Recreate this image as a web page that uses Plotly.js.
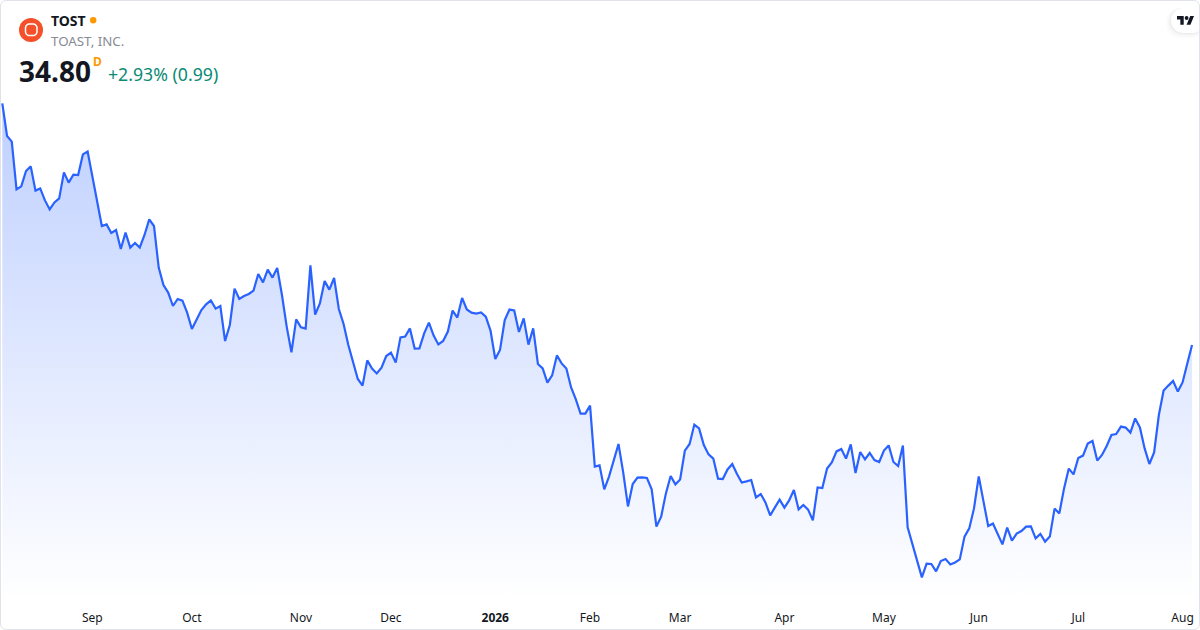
<!DOCTYPE html>
<html><head><meta charset="utf-8">
<script src="https://cdn.plot.ly/plotly-3.0.1.min.js"></script>
<style>
html,body{margin:0;padding:0;background:#fff;overflow:hidden}
#wrap{position:relative;width:1200px;height:630px}
#chart{width:1200px;height:630px}
#frame{position:absolute;left:0;top:0;width:1200px;height:630px;box-sizing:border-box;border:1px solid #e0e3eb;border-radius:6px;pointer-events:none}
</style></head><body>
<div id="wrap"><div id="chart"></div><div id="frame"></div></div>
<script>
const closes = [
46.88,45.25,44.97,42.58,42.73,43.50,43.73,42.52,42.63,42.03,41.58,41.93,42.13,43.43,42.92,43.32,43.30,44.33,44.47,43.22,
41.97,40.75,40.83,40.40,40.55,39.60,40.42,39.67,39.90,39.67,40.30,41.08,40.75,38.67,37.80,37.42,36.75,37.10,37.02,36.42,
35.60,36.07,36.55,36.83,37.03,36.62,36.75,35.00,35.80,37.62,37.10,37.25,37.35,37.52,38.35,37.93,38.57,38.17,38.65,37.30,
35.72,34.43,36.08,35.68,35.62,38.78,36.32,36.88,38.00,37.57,38.15,36.60,35.85,34.80,33.88,33.10,32.77,34.03,33.62,33.38,
33.67,34.25,34.42,33.92,35.18,35.22,35.63,34.62,34.63,35.38,35.92,35.27,34.83,35.00,35.47,36.52,36.17,37.15,36.58,36.42,
36.37,36.43,36.22,35.52,34.10,34.55,36.05,36.57,36.53,35.45,36.13,34.82,35.63,33.85,33.63,32.92,33.28,34.28,33.88,33.62,
32.68,32.08,31.37,31.37,31.77,28.72,28.78,27.58,28.22,29.05,29.85,28.42,26.73,27.85,28.17,28.18,28.15,27.58,25.72,26.22,
27.38,28.25,27.83,28.08,29.52,29.85,30.82,30.63,29.80,29.33,29.12,28.12,28.10,28.58,28.85,28.35,27.92,27.98,28.05,27.18,
27.35,26.93,26.28,26.68,27.07,26.67,27.03,27.55,26.58,26.80,26.57,26.03,27.68,27.65,28.62,28.93,29.48,29.60,29.12,29.83,
28.40,29.45,29.08,29.40,29.05,28.95,29.52,29.78,28.95,28.75,29.77,25.68,24.85,24.02,23.18,23.87,23.85,23.48,24.00,24.10,
23.83,23.93,24.08,25.22,25.63,26.63,28.23,26.98,25.75,25.87,25.33,24.83,25.67,25.02,25.37,25.50,25.72,25.73,25.13,25.35,
24.97,25.22,26.62,26.38,27.63,28.62,28.33,29.15,29.27,29.87,30.00,29.02,29.30,29.75,30.30,30.35,30.72,30.67,30.42,31.13,
30.68,29.63,28.85,29.43,31.30,32.52,32.77,33.00,32.47,32.93,33.88,34.80];
const sessions = closes.map((_, i) => i);
const tickSessions = [19, 40, 63, 82, 104, 124, 143, 165, 186, 206, 227, 249];
const tickLabels = ['Sep','Oct','Nov','Dec','<b>2026</b>','Feb','Mar','Apr','May','Jun','Jul','Aug'];
const symbol = 'TOST', company = 'TOAST, INC.', lastPrice = '34.80', change = '+2.93% (0.99)';

const W = 1200, PH = 600;
const px = x => x / W, py = y => 1 - y / PH;
const FONT = '"Noto Sans", "Open Sans", sans-serif';
const pathOf = pts => pts.map((p, i) => (i ? 'L' : 'M') + px(p[0]).toFixed(5) + ',' + py(p[1]).toFixed(5)).join(' ') + ' Z';
const base = {xref:'paper', yref:'paper', layer:'above'};
const note = (x, y, text, size, color, anchor, extra) => Object.assign({
  xref:'paper', yref:'paper', x:px(x), y:py(y), text, showarrow:false, xanchor:anchor||'left', yanchor:'middle',
  font:{family:FONT, size, color}, borderpad:0, borderwidth:0
}, extra||{});

function arc(cx, cy, rx, ry, a0, a1, n){const o=[];for(let k=0;k<=n;k++){const a=(a0+(a1-a0)*k/n)*Math.PI/180;o.push([cx+rx*Math.cos(a),cy+ry*Math.sin(a)]);}return o;}
function pill(x0,y0,x1,y1,r){return pathOf([...arc(x0+r,y0+r,r,r,180,270,8),...arc(x1-r,y0+r,r,r,270,360,8),...arc(x1-r,y1-r,r,r,0,90,8),...arc(x0+r,y1-r,r,r,90,180,8)]);}
const LX = 1177, LY = 14.2, LS = 0.48;
const lg = (x,y) => [LX + x*LS, LY + y*LS];
const shapes = [
  Object.assign({}, base, {type:'circle', x0:px(19), x1:px(43), y0:py(42), y1:py(18), fillcolor:'#f4502a', line:{width:0}}),
  Object.assign({}, base, {type:'path', path:pill(25.5,24,37,35.5,4), fillcolor:'rgba(0,0,0,0)', line:{color:'#ffffff', width:1.5}}),
  Object.assign({}, base, {type:'circle', x0:px(90), x1:px(96.4), y0:py(23.4), y1:py(17), fillcolor:'#ff9800', line:{width:0}}),
  ...[[5,0.01],[3.5,0.015],[2,0.02],[1,0.025]].map(s => Object.assign({}, base, {type:'path', path:pill(1171-s[0],8,1205,33+s[0],13), fillcolor:'rgba(0,0,0,'+s[1]+')', line:{width:0}})),
  Object.assign({}, base, {type:'path', path:pill(1171,8,1205,33,12.5), fillcolor:'#ffffff', line:{width:0}}),
  Object.assign({}, base, {type:'path', path:pathOf([lg(14,22),lg(7,22),lg(7,11),lg(0,11),lg(0,4),lg(14,4)]), fillcolor:'#131722', line:{width:0}}),
  Object.assign({}, base, {type:'path', path:pathOf([lg(28,22),lg(20,22),lg(27.5,4),lg(35.5,4)]), fillcolor:'#131722', line:{width:0}}),
  Object.assign({}, base, {type:'circle', x0:px(lg(16,4)[0]), x1:px(lg(24,4)[0]), y0:py(lg(0,12)[1]), y1:py(lg(0,4)[1]), fillcolor:'#131722', line:{width:0}})
];
const annotations = [
  note(51, 20.5, '<b>'+symbol+'</b>', 14, '#131722'),
  note(51, 40.5, company, 13.3, '#878b94'),
  note(19, 71, '<b>'+lastPrice+'</b>', 28, '#131722'),
  note(93, 61.5, '<b>D</b>', 12, '#ff9800'),
  note(108, 74.5, change, 17.7, '#0b8a74')
];

Plotly.newPlot('chart', [{
  type:'scatter', mode:'lines', x:sessions, y:closes, hoverinfo:'skip',
  line:{color:'#2962ff', width:2.2, shape:'linear'},
  fill:'tozeroy',
  fillgradient:{type:'vertical', start:22.05, stop:46.88, colorscale:[[0,'rgba(41,98,255,0)'],[1,'rgba(41,98,255,0.3)']]}
}], {
  width:1200, height:630, paper_bgcolor:'#ffffff', plot_bgcolor:'#ffffff', showlegend:false,
  margin:{l:0,r:0,t:0,b:30,pad:0},
  xaxis:{range:[-0.485,252.68], tickmode:'array', tickvals:tickSessions, ticktext:tickLabels, showgrid:false, zeroline:false, showline:false, ticks:'', tickangle:0, ticklen:0, ticklabelstandoff:9,
    tickfont:{family:FONT, size:12, color:'#131722'}, fixedrange:true},
  yaxis:{range:[22.05,52.05], visible:false, showgrid:false, zeroline:false, fixedrange:true},
  shapes, annotations
}, {displayModeBar:false, staticPlot:true});
</script>
</body></html>
